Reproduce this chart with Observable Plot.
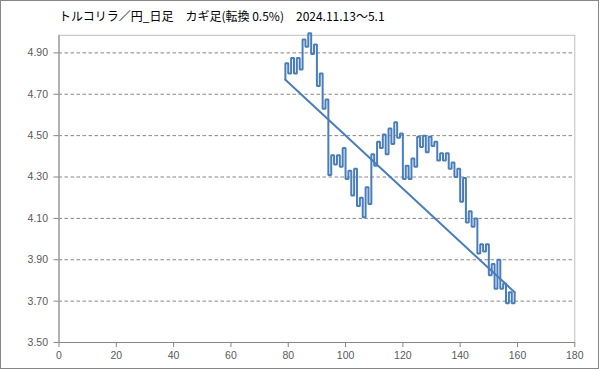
<!DOCTYPE html>
<html>
<head>
<meta charset="utf-8">
<script src="https://cdn.jsdelivr.net/npm/d3@7"></script>
<script src="https://cdn.jsdelivr.net/npm/@observablehq/plot@0.6"></script>
<style>
  html, body { margin: 0; padding: 0; background: #fff; }
  #chart { position: relative; width: 599px; height: 369px; }
</style>
</head>
<body>
<div id="chart"></div>
<script>
// ---- data ----
const titleText = "トルコリラ／円_日足\u3000カギ足(転換 0.5%)\u30002024.11.13～5.1";
const xTicks = [0, 20, 40, 60, 80, 100, 120, 140, 160, 180];
const yTicks = [3.5, 3.7, 3.9, 4.1, 4.3, 4.5, 4.7, 4.9];
const startX = 79;
// kagi turning values: first is the starting price, then one value per column x = 79..159
const turns = [
  4.77,
  4.85, 4.80, 4.875, 4.80, 4.875, 4.82, 4.965, 4.93, 4.995, 4.895,   // 79-88
  4.94, 4.74, 4.80, 4.63, 4.675, 4.31, 4.405, 4.36, 4.405, 4.35,     // 89-98
  4.44, 4.29, 4.33, 4.21, 4.34, 4.16, 4.20, 4.105, 4.25, 4.17,       // 99-108
  4.41, 4.355, 4.47, 4.44, 4.505, 4.41, 4.535, 4.46, 4.565, 4.49,    // 109-118
  4.51, 4.29, 4.355, 4.29, 4.39, 4.35, 4.495, 4.445, 4.50, 4.42,     // 119-128
  4.495, 4.45, 4.47, 4.38, 4.415, 4.38, 4.415, 4.34, 4.37, 4.30,     // 129-138
  4.34, 4.18, 4.295, 4.08, 4.135, 4.06, 4.10, 3.93, 3.975, 3.94,     // 139-148
  3.975, 3.825, 3.88, 3.76, 3.90, 3.76, 3.785, 3.69, 3.743, 3.69,    // 149-158
  3.743                                                               // 159
];

// ---- build the step path (step-after through turning points) ----
const kagi = [{x: startX, y: turns[0]}];
for (let i = 1; i < turns.length; i++) kagi.push({x: startX + i - 1, y: turns[i]});
const endPt = kagi[kagi.length - 1];
const diag = [kagi[0], endPt];

const blue = "#4A7EBB";
const axisGray = "#868686";

const svg = Plot.plot({
  width: 599,
  height: 369,
  marginLeft: 58.5,
  marginRight: 24.7,
  marginTop: 34.8,
  marginBottom: 27,
  style: {fontFamily: "'Liberation Sans', Arial, sans-serif", fontSize: "10.5px", background: "white", overflow: "visible"},
  x: {domain: [0, 180]},
  y: {domain: [3.5, 4.985]},
  marks: [
    Plot.ruleY(yTicks.filter(d => d > 3.5), {stroke: axisGray, strokeDasharray: "3.5,2.5", strokeWidth: 1}),
    Plot.frame({stroke: "#bfbfbf"}),
    Plot.ruleX([0], {stroke: axisGray}),
    Plot.ruleY([3.5], {stroke: axisGray}),
    Plot.axisY({ticks: yTicks, tickFormat: d3.format(".2f"), tickSize: 5, tickPadding: 6, stroke: axisGray, fill: "#595959", label: null}),
    Plot.axisX({ticks: xTicks, tickFormat: d => String(d), tickSize: 5, tickPadding: 4, stroke: axisGray, fill: "#595959", label: null}),
    Plot.line(kagi, {x: "x", y: "y", curve: "step-after", stroke: blue, strokeWidth: 2, strokeLinejoin: "miter"}),
    Plot.line(diag, {x: "x", y: "y", stroke: blue, strokeWidth: 2})
  ]
});

document.getElementById("chart").appendChild(svg);

const s = d3.select(svg);
// outer chart border
s.append("rect")
  .attr("x", 0.5).attr("y", 0.5).attr("width", 598).attr("height", 368)
  .attr("fill", "none").attr("stroke", axisGray);
// title
s.append("text")
  .attr("x", 59).attr("y", 21)
  .attr("text-anchor", "start")
  .attr("fill", "#000")
  .style("font-family", "'Noto Sans CJK JP', sans-serif")
  .style("font-size", "12px")
  .text(titleText);
</script>
</body>
</html>
